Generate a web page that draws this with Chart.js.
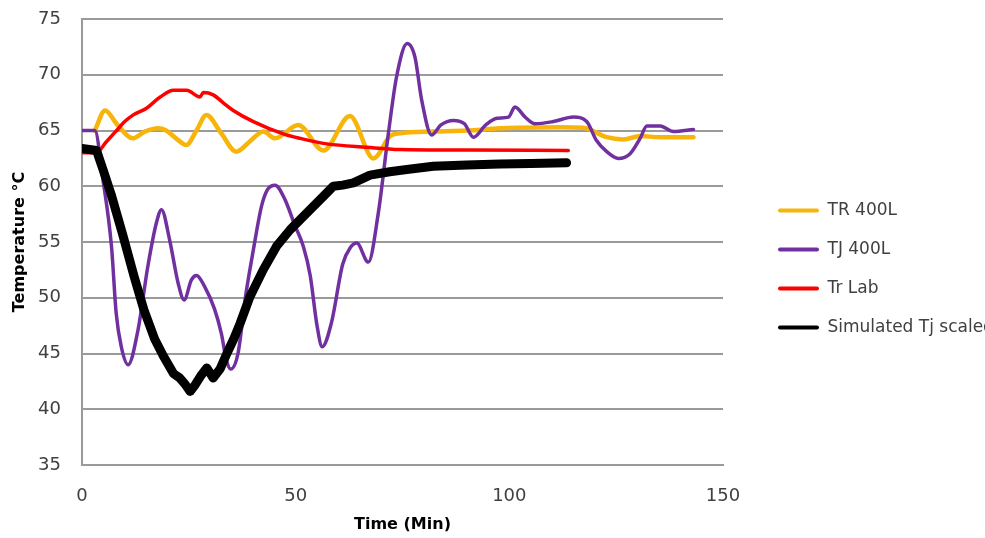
<!DOCTYPE html>
<html>
<head>
<meta charset="utf-8">
<script src="https://cdn.jsdelivr.net/npm/chart.js@4/dist/chart.umd.min.js"></script>
<style>
html,body{margin:0;padding:0;background:#fff;overflow:hidden}
#wrap{width:985px;height:538px;position:relative}
</style>
</head>
<body>
<div id="wrap"><canvas id="c"></canvas></div>
<script>
// ---- data ----
const seriesNames = ['TR 400L', 'TJ 400L', 'Tr Lab', 'Simulated Tj scaled'];

const trTime = [3.0, 5.4, 8.3, 11.9, 14.7, 17.8, 19.7, 22.0, 24.4, 26.8, 29.1, 32.5, 36.1, 39.5, 42.4, 45.2, 50.6, 56.5, 62.7, 68.2, 72.1, 74.4, 82.2, 90.0, 97.8, 101.7, 111.9, 117.3, 122.8, 126.7, 130.6, 135.3, 143.1];
const trTemp = [65.0, 66.8, 65.5, 64.3, 64.9, 65.2, 65.0, 64.3, 63.7, 65.0, 66.4, 64.8, 63.1, 64.1, 64.9, 64.3, 65.5, 63.2, 66.3, 62.5, 64.5, 64.75, 64.9, 65.0, 65.2, 65.25, 65.3, 65.25, 64.4, 64.2, 64.5, 64.4, 64.4];

const tjTime = [0, 3.0, 4.9, 6.9, 8.0, 9.2, 10.8, 13.1, 15.4, 17.4, 18.6, 20.5, 22.5, 23.9, 25.6, 26.8, 28.7, 31.0, 32.6, 33.8, 34.8, 36.5, 38.3, 40.1, 42.0, 43.4, 45.2, 47.5, 49.8, 51.8, 53.4, 55.0, 56.2, 58.4, 61.0, 62.8, 64.3, 67.0, 69.3, 71.7, 73.6, 76.1, 77.9, 79.5, 81.8, 84.0, 86.9, 89.5, 91.6, 94.5, 97.1, 99.8, 101.3, 103.7, 106.0, 110.3, 115.0, 118.1, 120.4, 122.8, 125.5, 128.2, 130.6, 132.2, 135.3, 138.4, 143.1];
const tjTemp = [65.0, 65.0, 60.6, 54.6, 48.6, 45.6, 44.0, 47.1, 52.8, 56.7, 57.9, 55.2, 51.3, 49.8, 51.6, 52.0, 51.0, 49.0, 46.8, 44.4, 43.6, 45.0, 50.2, 54.3, 58.2, 59.7, 60.1, 58.8, 56.5, 54.6, 52.0, 47.5, 45.6, 47.8, 53.0, 54.5, 54.9, 53.2, 57.5, 64.75, 69.8, 72.8, 71.6, 67.7, 64.6, 65.5, 65.9, 65.6, 64.4, 65.5, 66.1, 66.2, 67.1, 66.2, 65.6, 65.8, 66.2, 65.8, 64.1, 63.1, 62.5, 62.9, 64.3, 65.4, 65.4, 64.9, 65.1];

const labTime = [0, 3.4, 5.5, 8.1, 10.0, 12.0, 15.1, 18.3, 21.4, 24.5, 27.6, 28.4, 30.7, 33.0, 35.4, 40.1, 47.1, 51.0, 57.3, 66.6, 74.4, 90.0, 113.8];
const labTemp = [63.0, 63.0, 63.9, 65.0, 65.8, 66.4, 67.0, 68.0, 68.6, 68.6, 68.0, 68.4, 68.2, 67.5, 66.8, 65.8, 64.7, 64.3, 63.8, 63.5, 63.3, 63.25, 63.2];

const simTime = [0, 3.4, 5.0, 6.8, 9.5, 12.2, 14.5, 17.0, 19.0, 21.4, 22.9, 24.2, 25.3, 26.5, 27.8, 29.2, 30.7, 32.3, 33.9, 35.5, 37.0, 39.3, 42.4, 45.5, 48.7, 52.6, 56.5, 58.8, 61.0, 63.5, 67.4, 72.0, 76.0, 82.2, 90.0, 97.8, 105.0, 113.4];
const simTemp = [63.4, 63.2, 61.4, 59.3, 55.7, 51.9, 48.9, 46.3, 44.8, 43.2, 42.8, 42.2, 41.6, 42.2, 43.0, 43.7, 42.8, 43.6, 45.0, 46.3, 47.7, 50.1, 52.5, 54.6, 56.1, 57.6, 59.1, 60.0, 60.1, 60.3, 61.0, 61.3, 61.5, 61.8, 61.9, 62.0, 62.05, 62.1];

const xTicks = [0, 50, 100, 150];
const yTicks = [35, 40, 45, 50, 55, 60, 65, 70, 75];

// ---- chart ----
const pts = (xs, ys) => xs.map((x, i) => ({x: x, y: ys[i]}));
Chart.defaults.font.family = "'DejaVu Sans', sans-serif";
const gridGray = '#9a9a9a';
const textGray = '#404040';
const clear = 'rgba(0,0,0,0)';

new Chart(document.getElementById('c'), {
  type: 'line',
  data: {
    datasets: [
      {label: seriesNames[0], data: pts(trTime, trTemp), borderColor: '#F7B50C', backgroundColor: '#F7B50C', borderWidth: 4.5, cubicInterpolationMode: 'monotone', order: 4},
      {label: seriesNames[1], data: pts(tjTime, tjTemp), borderColor: '#7030A0', backgroundColor: '#7030A0', borderWidth: 3.5, cubicInterpolationMode: 'monotone', order: 3},
      {label: seriesNames[2], data: pts(labTime, labTemp), borderColor: '#FF0000', backgroundColor: '#FF0000', borderWidth: 3.5, cubicInterpolationMode: 'monotone', order: 2},
      {label: seriesNames[3], data: pts(simTime, simTemp), borderColor: '#000000', backgroundColor: '#000000', borderWidth: 9, tension: 0, order: 1}
    ]
  },
  options: {
    responsive: true,
    maintainAspectRatio: false,
    animation: false,
    events: [],
    elements: {point: {radius: 0}, line: {borderCapStyle: 'round', borderJoinStyle: 'round'}},
    layout: {padding: 0},
    scales: {
      x: {
        type: 'linear', min: xTicks[0], max: xTicks[xTicks.length - 1],
        afterBuildTicks: s => { s.ticks = xTicks.map(v => ({value: v})); },
        grid: {display: true, color: clear, drawTicks: true, tickLength: 21, tickColor: clear},
        border: {display: true, color: gridGray, width: 2},
        ticks: {padding: 0, color: textGray, font: {size: 18}},
        title: {display: true, text: 'Time (Min)', color: '#000', font: {size: 16, weight: 'bold'}, padding: {top: 7.8, bottom: 3.4}}
      },
      y: {
        type: 'linear', min: yTicks[0], max: yTicks[yTicks.length - 1],
        afterBuildTicks: s => { s.ticks = yTicks.map(v => ({value: v})); },
        grid: {display: true, color: gridGray, lineWidth: 2, drawTicks: true, tickLength: 21, tickColor: clear},
        border: {display: true, color: gridGray, width: 2},
        ticks: {padding: 0, color: textGray, font: {size: 18}},
        title: {display: true, text: 'Temperature °C', color: '#000', font: {size: 16, weight: 'bold'}, padding: {top: 10.4, bottom: 8.5}}
      },
      gap: {
        type: 'linear', position: 'right', display: true,
        grid: {display: false, drawTicks: false}, border: {display: false},
        ticks: {display: false},
        afterFit: s => { s.width = 33; }
      }
    },
    plugins: {
      tooltip: {enabled: false},
      title: {display: true, text: '', padding: 0, font: {size: 19, lineHeight: 1}},
      legend: {
        position: 'right',
        maxWidth: 229,
        labels: {
          boxWidth: 41, boxHeight: 4, padding: 22, color: textGray,
          font: {size: 17},
          sort: (a, b) => a.datasetIndex - b.datasetIndex,
          generateLabels: chart => Chart.defaults.plugins.legend.labels.generateLabels(chart).map(l => Object.assign(l, {fillStyle: l.strokeStyle, lineWidth: 0, borderRadius: 2}))
        }
      }
    }
  }
});
</script>
</body>
</html>
